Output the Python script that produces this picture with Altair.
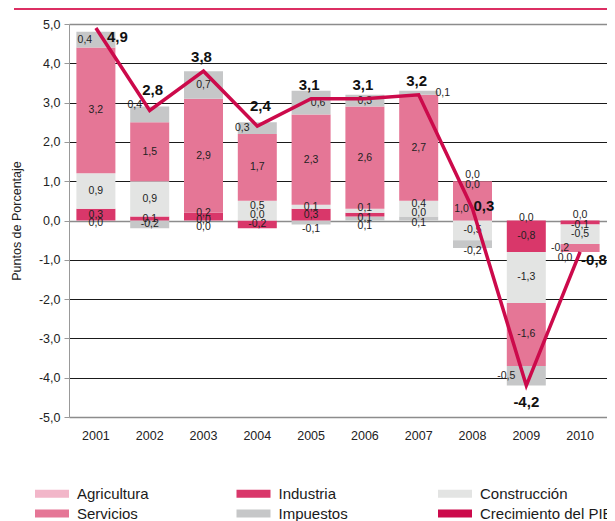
import altair as alt
import pandas as pd

years = ["2001", "2002", "2003", "2004", "2005", "2006", "2007", "2008", "2009", "2010"]
sectors = ["Agricultura", "Industria", "Construcción", "Servicios", "Impuestos"]
agricultura = [0.0, -0.2, 0.0, 0.0, -0.1, 0.1, 0.1, 0.0, 0.0, 0.0]
industria = [0.3, 0.1, 0.2, -0.2, 0.3, 0.1, 0.0, 0.0, -0.8, -0.1]
construccion = [0.9, 0.9, 0.0, 0.5, 0.1, 0.1, 0.4, -0.5, -1.3, -0.5]
servicios = [3.2, 1.5, 2.9, 1.7, 2.3, 2.6, 2.7, 1.0, -1.6, -0.2]
impuestos = [0.4, 0.4, 0.7, 0.3, 0.6, 0.3, 0.1, -0.2, -0.5, 0.0]
pib = [4.9, 2.8, 3.8, 2.4, 3.1, 3.1, 3.2, 0.3, -4.2, -0.8]

legend_items = sectors + ["Crecimiento del PIB"]
legend_colors = ["#f2b6c9", "#d9376a", "#e3e4e3", "#e57696", "#c6c7c8", "#cc0a4b"]
agri_bar_color = "#c6c7c8"
line_color = "#cc0a4b"

# label nudges in pixels (dx, dy) to mimic the original label placement
label_nudges = {
    ("2001", "Impuestos"): (-11, 0), ("2001", "Agricultura"): (0, 2),
    ("2002", "Impuestos"): (-15, -9),
    ("2003", "Industria"): (0, -4), ("2003", "Construcción"): (0, 7), ("2003", "Agricultura"): (0, 6),
    ("2004", "Impuestos"): (-15, 0), ("2004", "Construcción"): (0, -5), ("2004", "Agricultura"): (0, -6),
    ("2005", "Impuestos"): (7, 0), ("2005", "Agricultura"): (0, 7),
    ("2006", "Construcción"): (0, -3), ("2006", "Industria"): (0, 3), ("2006", "Agricultura"): (0, 7),
    ("2007", "Impuestos"): (24, 0), ("2007", "Construcción"): (0, -5), ("2007", "Industria"): (0, -4),
    ("2007", "Agricultura"): (0, 4),
    ("2008", "Agricultura"): (0, -46), ("2008", "Industria"): (0, -36), ("2008", "Servicios"): (-11, 8),
    ("2008", "Impuestos"): (0, 7),
    ("2009", "Agricultura"): (0, -3), ("2009", "Impuestos"): (-20, 0),
    ("2010", "Agricultura"): (0, -6), ("2010", "Industria"): (0, 3), ("2010", "Servicios"): (-20, 0),
    ("2010", "Impuestos"): (-15, 37),
}

rows = []
for i, (name, vals) in enumerate(zip(sectors, [agricultura, industria, construccion, servicios, impuestos])):
    for yr, v in zip(years, vals):
        ndx, ndy = label_nudges.get((yr, name), (0, 0))
        rows.append({"year": yr, "sector": name, "idx": i, "v": v, "ndx": ndx, "ndy": ndy})
df = pd.DataFrame(rows)
pib_df = pd.DataFrame({"year": years, "pib": pib})

PX_PER_UNIT = 393 / 10
FMT = "(datum.{f} < 0 ? '-' : '') + replace(format(abs(datum.{f}), '.1f'), '.', ',')"

yscale = alt.Scale(domain=[-5, 5], nice=False, zero=False)
yaxis = alt.Axis(
    values=list(range(-5, 6)),
    labelExpr=FMT.format(f="value"),
    labelFontSize=12.5, labelColor="#222222", labelPadding=4,
    tickSize=5, tickColor="#999999", domainColor="#999999",
    titleFontSize=12.5, titleFontWeight="normal", titleColor="#222222", titlePadding=15,
    grid=True,
    gridColor={"condition": {"test": "datum.value === 0 || abs(datum.value) === 5", "value": "#8c8c8c"}, "value": "#1a1a1a"},
    gridWidth={"condition": {"test": "datum.value === 0 || abs(datum.value) === 5", "value": 1.5}, "value": 1},
)
YT = "Puntos de Porcentaje"

x = alt.X(
    "year:N",
    scale=alt.Scale(paddingInner=0.275, paddingOuter=0.1375),
    axis=alt.Axis(title=None, labelAngle=0, ticks=False, tickSize=0, domain=False, grid=False,
                  labelFontSize=12.5, labelPadding=12, labelColor="#222222"),
)

base = (
    alt.Chart(df)
    .transform_stack(stack="v", groupby=["year"], as_=["y0", "y1"],
                     sort=[alt.SortField("idx", order="ascending")], offset="zero")
    .transform_calculate(
        mid=f"(datum.y0 + datum.y1) / 2 - datum.ndy / {PX_PER_UNIT}",
        lbl=FMT.format(f="v"),
    )
)

bars = base.mark_bar().encode(
    x=x,
    y=alt.Y("y0:Q", scale=yscale, axis=yaxis, title=YT),
    y2="y1:Q",
    color=alt.condition(
        "datum.sector == 'Agricultura'",
        alt.value(agri_bar_color),
        alt.Color(
            "sector:N",
            scale=alt.Scale(domain=legend_items, range=legend_colors),
            legend=alt.Legend(
                title=None, orient="none", legendX=-25.5, legendY=461, direction="horizontal",
                columns=3, gridAlign="all", columnPadding=25.5, rowPadding=3,
                symbolType="M-2,-0.47H2V0.47H-2Z", symbolSize=289, symbolStrokeWidth=0,
                symbolOpacity=1, labelFontSize=15, labelOffset=16.5, labelColor="#1a1a1a",
                labelLimit=300,
            ),
        ),
    ),
)

seg_layers = []
for dxv in sorted(set(df["ndx"])):
    seg_layers.append(
        base.transform_filter(alt.datum.ndx == int(dxv))
        .mark_text(fontSize=10.5, color="#222222", dx=int(dxv))
        .encode(
            x=x,
            y=alt.Y("mid:Q", scale=yscale, axis=yaxis, title=YT),
            text="lbl:N",
        )
    )

line = alt.Chart(pib_df).mark_line(color=line_color, strokeWidth=3.5).encode(
    x=x,
    y=alt.Y("pib:Q", scale=yscale, axis=yaxis, title=YT),
)


def pib_label(yrs, dx, dy, align):
    return (
        alt.Chart(pib_df)
        .transform_filter(alt.FieldOneOfPredicate(field="year", oneOf=yrs))
        .transform_calculate(lbl=FMT.format(f="pib"))
        .mark_text(fontSize=15, fontWeight="bold", color="#111111", dx=dx, dy=dy, align=align)
        .encode(x=x, y=alt.Y("pib:Q", scale=yscale, axis=yaxis, title=YT), text="lbl:N")
    )


labels_pib = [
    pib_label(["2001"], 11, 9, "left"),
    pib_label(["2002", "2004"], 3, -20, "center"),
    pib_label(["2003", "2005", "2006", "2007"], -2, -14, "center"),
    pib_label(["2008"], 1, -3, "left"),
    pib_label(["2010"], 1, 8, "left"),
    pib_label(["2009"], 0, 16, "center"),
]

header = alt.Chart(pd.DataFrame({"a": [0]})).mark_rule(color="#dc2f63", strokeWidth=2).encode(
    x=alt.value(-55), x2=alt.value(545), y=alt.value(-15)
)

chart = (
    alt.layer(bars, *seg_layers, line, *labels_pib, header)
    .properties(
        width=538, height=393,
        padding={"left": 61, "top": 16, "right": 0, "bottom": 104},
        autosize=alt.AutoSizeParams(type="none"),
    )
    .configure(font="Liberation Sans")
    .configure_view(stroke=None)
)

chart.save("out.html", embed_options={"renderer": "svg", "actions": False})
